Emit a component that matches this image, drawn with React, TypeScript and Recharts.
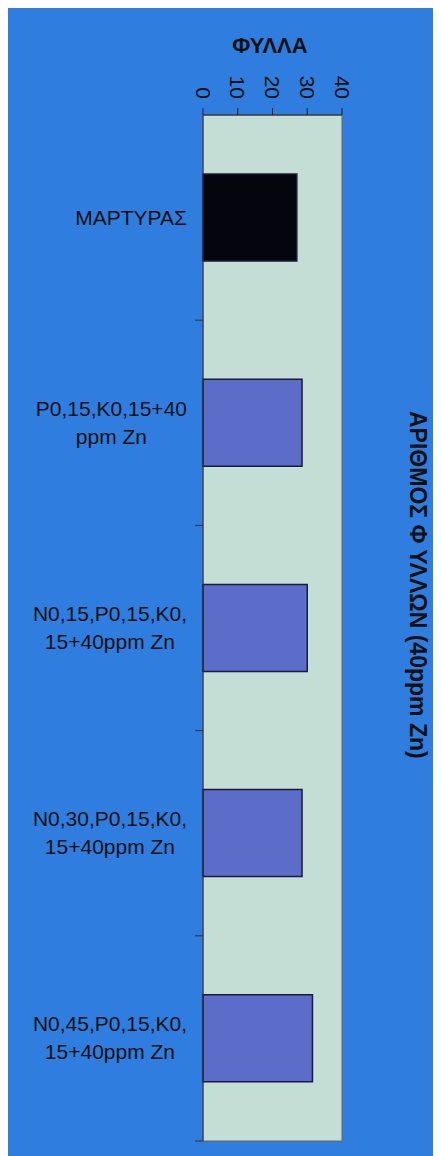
import React from 'react';
import { BarChart, Bar, XAxis, YAxis, CartesianGrid, Cell } from 'recharts';

// categories (treatments) and number of leaves at 40ppm Zn
const treatments = [
  'ΜΑΡΤΥΡΑΣ',
  'P0,15,K0,15+40\nppm Zn',
  'N0,15,P0,15,K0,\n15+40ppm Zn',
  'N0,30,P0,15,K0,\n15+40ppm Zn',
  'N0,45,P0,15,K0,\n15+40ppm Zn',
];
const leaves = [27, 28.5, 30, 28.5, 31.5];
const valueTicks = [0, 10, 20, 30, 40];

const chartTitle = 'ΦΥΛΛΑ';
const sideTitle = 'ΑΡΙΘΜΟΣ Φ ΥΛΛΩΝ (40ppm Zn)';

const data = treatments.map((name, i) => ({ name, leaves: leaves[i] }));

const FONT = '"Liberation Sans", Arial, sans-serif';
const BLUE = '#2f7ddf';
const PLOT_BG = '#c4ddd5';

const ValueTick = (props: any) => {
  const { x, y, payload } = props;
  return (
    <text
      x={x}
      y={y}
      dy="0.35em"
      transform={`rotate(90, ${x}, ${y})`}
      textAnchor="end"
      fontFamily={FONT}
      fontSize={21}
      fill="#111"
    >
      {payload.value}
    </text>
  );
};

const CategoryTick = (props: any) => {
  const { x, y, payload } = props;
  const half = payload.offset || 0;
  return (
    <g>
      <line x1={x - 8} x2={x} y1={y + half} y2={y + half} stroke="#333" strokeWidth={1} />
      <foreignObject x={x - 216} y={y - 40} width={200} height={80}>
        <div
          style={{
            width: 200,
            height: 80,
            display: 'flex',
            alignItems: 'center',
            justifyContent: 'flex-end',
          }}
        >
          <span
            style={{
              textAlign: 'center',
              whiteSpace: 'pre-line',
              fontFamily: FONT,
              fontSize: 21,
              lineHeight: '28px',
              color: '#111',
            }}
          >
            {payload.value}
          </span>
        </div>
      </foreignObject>
    </g>
  );
};

const App: React.FC = () => {
  return (
    <div style={{ position: 'relative', width: 433, height: 1148, background: BLUE }}>
      <div
        style={{
          position: 'absolute',
          left: 162,
          width: 200,
          top: 25,
          textAlign: 'center',
          fontFamily: FONT,
          fontWeight: 'bold',
          fontSize: 22,
          lineHeight: '26px',
          color: '#111',
        }}
      >
        {chartTitle}
      </div>
      <div
        style={{
          position: 'absolute',
          left: 397,
          top: 403,
          writingMode: 'vertical-rl',
          fontFamily: FONT,
          fontWeight: 'bold',
          fontSize: 23,
          lineHeight: '26px',
          color: '#111',
          whiteSpace: 'nowrap',
        }}
      >
        {sideTitle}
      </div>
      <BarChart
        width={433}
        height={1148}
        data={data}
        layout="vertical"
        margin={{ top: 10, right: 99, bottom: 15, left: 0 }}
        barCategoryGap={59}
      >
        <CartesianGrid
          fill={PLOT_BG}
          stroke="#666"
          verticalCoordinatesGenerator={({ offset }: any) => [offset.left, offset.left + offset.width]}
          horizontalCoordinatesGenerator={({ offset }: any) => [offset.top, offset.top + offset.height]}
        />
        <XAxis
          type="number"
          orientation="top"
          domain={[0, 40]}
          ticks={valueTicks}
          height={97}
          tickSize={7}
          tickMargin={9}
          axisLine={{ stroke: '#222' }}
          tickLine={{ stroke: '#222' }}
          tick={<ValueTick />}
          interval={0}
        />
        <YAxis
          type="category"
          dataKey="name"
          width={195}
          tickSize={0}
          tickMargin={0}
          tickLine={false}
          axisLine={{ stroke: '#333' }}
          tick={<CategoryTick />}
          interval={0}
        />
        <Bar dataKey="leaves" stroke="#1b1b3a" strokeWidth={1.5} isAnimationActive={false}>
          {data.map((_, i) => (
            <Cell key={i} fill={i === 0 ? '#05050d' : '#5b6dc8'} />
          ))}
        </Bar>
      </BarChart>
    </div>
  );
};

export default App;
